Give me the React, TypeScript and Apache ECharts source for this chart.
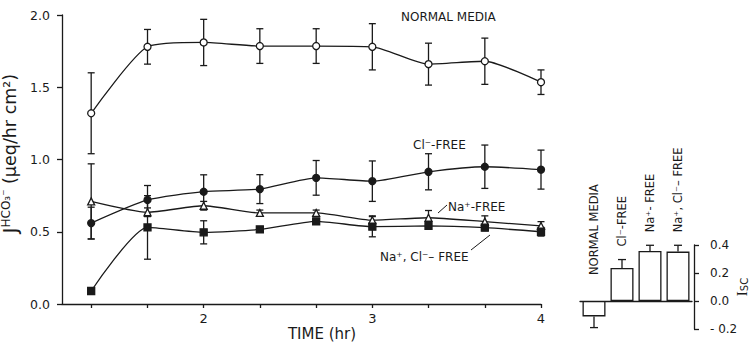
import React, { useEffect, useRef } from 'react';
import * as echarts from 'echarts';

// Sampling times (hr)
const times = [1.333, 1.667, 2.0, 2.333, 2.667, 3.0, 3.333, 3.667, 4.0];
const xLabelValues = [2, 3, 4];

// J HCO3 (µeq/hr cm2)
const normal = [1.32, 1.78, 1.81, 1.785, 1.785, 1.78, 1.66, 1.68, 1.535];
const normalErr = [0.28, 0.12, 0.16, 0.12, 0.12, 0.16, 0.145, 0.16, 0.085];
const clFree = [0.56, 0.72, 0.777, 0.795, 0.873, 0.85, 0.915, 0.95, 0.93];
const clFreeErr = [0.11, 0.1, 0.117, 0.1, 0.12, 0.14, 0.125, 0.15, 0.135];
const naFree = [0.71, 0.635, 0.68, 0.63, 0.63, 0.58, 0.597, 0.57, 0.54];
const naFreeErr = [0.26, 0.03, 0.03, 0.02, 0.02, 0.03, 0.05, 0.04, 0.03];
const naClFree = [0.09, 0.53, 0.496, 0.516, 0.572, 0.535, 0.54, 0.528, 0.5];
const naClFreeErr = [0.02, 0.22, 0.08, 0.02, 0.02, 0.07, 0.02, 0.02, 0.03];

// Isc bars
const iscCategories = ['NORMAL MEDIA', 'Cl⁻-FREE', 'Na⁺- FREE', 'Na⁺, Cl⁻– FREE'];
const isc = [-0.11, 0.236, 0.358, 0.353];
const iscErr = [0.08, 0.06, 0.04, 0.045];

export default function App() {
  const ref = useRef<HTMLDivElement>(null);
  useEffect(() => {
    document.body.style.margin = '0';
    const chart = echarts.init(ref.current!, null, { renderer: 'svg' });
    const ink = '#1a1a1a';
    const font = 'DejaVu Sans';
    const lw = 1.3;

    const pts = (ys: number[]) => times.map((t, i) => [t, ys[i]]);
    const errSeries = (ys: number[], es: number[]) => ({
      type: 'custom',
      xAxisIndex: 0,
      yAxisIndex: 0,
      silent: true,
      z: 1,
      encode: { x: 0, y: 1 },
      data: times.map((t, i) => [t, ys[i], es[i]]),
      renderItem: (params: any, api: any) => {
        const x = api.value(0), y = api.value(1), e = api.value(2);
        const top = api.coord([x, y + e]);
        const bot = api.coord([x, y - e]);
        const w = 3.5;
        const style = { stroke: ink, lineWidth: lw };
        return {
          type: 'group',
          children: [
            { type: 'line', shape: { x1: top[0], y1: top[1], x2: bot[0], y2: bot[1] }, style },
            { type: 'line', shape: { x1: top[0] - w, y1: top[1], x2: top[0] + w, y2: top[1] }, style },
            { type: 'line', shape: { x1: bot[0] - w, y1: bot[1], x2: bot[0] + w, y2: bot[1] }, style },
          ],
        };
      },
    });
    const lineSeries = (name: string, ys: number[], symbol: string, filled: boolean) => ({
      type: 'line',
      name,
      xAxisIndex: 0,
      yAxisIndex: 0,
      data: pts(ys),
      smooth: 0.2,
      symbol,
      symbolSize: 7,
      showSymbol: true,
      z: 3,
      itemStyle: { color: filled ? ink : '#fff', borderColor: ink, borderWidth: lw },
      lineStyle: { color: ink, width: lw },
    });

    const textStyle = { fontFamily: font, fontSize: 12, fill: ink };

    chart.setOption({
      animation: false,
      backgroundColor: '#fff',
      grid: [
        { left: 62, top: 15, width: 479, height: 289, containLabel: false, outerBoundsMode: 'none' },
        { left: 580, top: 245, width: 112, height: 84, containLabel: false, outerBoundsMode: 'none' },
      ],
      xAxis: [
        {
          type: 'value',
          gridIndex: 0,
          min: 1.16,
          max: 4,
          axisLine: { show: true, lineStyle: { color: ink, width: lw } },
          axisTick: { show: true, customValues: times, length: 4, lineStyle: { color: ink, width: lw } },
          axisLabel: {
            customValues: xLabelValues,
            formatter: (v: number) => String(v),
            color: ink,
            fontFamily: font,
            fontSize: 13,
            margin: 8,
          },
          splitLine: { show: false },
        },
        {
          type: 'category',
          gridIndex: 1,
          data: iscCategories,
          axisLine: { show: true, onZero: true, lineStyle: { color: ink, width: lw } },
          axisTick: { show: false },
          axisLabel: { show: false },
          splitLine: { show: false },
        },
      ],
      yAxis: [
        {
          type: 'value',
          gridIndex: 0,
          min: 0,
          max: 2,
          interval: 0.5,
          axisLine: { show: true, lineStyle: { color: ink, width: lw } },
          axisTick: { show: true, length: 5, lineStyle: { color: ink, width: lw } },
          axisLabel: {
            formatter: (v: number) => v.toFixed(1),
            color: ink,
            fontFamily: font,
            fontSize: 12.5,
            margin: 12,
          },
          splitLine: { show: false },
          name: '{j|J}{s|HCO₃⁻}{t| (μeq/hr cm²)}',
          nameLocation: 'middle',
          nameRotate: 90,
          nameGap: 38,
          nameTextStyle: {
            color: ink,
            fontFamily: font,
            padding: [0, 0, 0, 12],
            rich: {
              j: { fontSize: 19, fontFamily: font, color: ink, verticalAlign: 'bottom' },
              s: { fontSize: 12, fontFamily: font, color: ink, verticalAlign: 'top' },
              t: { fontSize: 17.5, fontFamily: font, color: ink, verticalAlign: 'bottom' },
            },
          },
        },
        {
          type: 'value',
          gridIndex: 1,
          position: 'right',
          offset: 2,
          min: -0.2,
          max: 0.4,
          interval: 0.2,
          axisLine: { show: true, lineStyle: { color: ink, width: lw } },
          axisTick: { show: true, length: 5, lineStyle: { color: ink, width: lw } },
          axisLabel: {
            formatter: (v: number) => (v < 0 ? '- ' + Math.abs(v).toFixed(1) : v.toFixed(1)),
            color: ink,
            fontFamily: font,
            fontSize: 12,
            margin: 16,
          },
          splitLine: { show: false },
        },
      ],
      series: [
        errSeries(normal, normalErr),
        errSeries(clFree, clFreeErr),
        errSeries(naFree, naFreeErr),
        errSeries(naClFree, naClFreeErr),
        lineSeries('NORMAL MEDIA', normal, 'circle', false),
        lineSeries('Cl⁻-FREE', clFree, 'circle', true),
        lineSeries('Na⁺-FREE', naFree, 'triangle', false),
        lineSeries('Na⁺, Cl⁻– FREE', naClFree, 'rect', true),
        {
          type: 'bar',
          xAxisIndex: 1,
          yAxisIndex: 1,
          data: isc,
          barWidth: 23,
          z: 2,
          itemStyle: { color: '#fff', borderColor: ink, borderWidth: lw },
        },
        {
          type: 'bar',
          xAxisIndex: 1,
          yAxisIndex: 1,
          barGap: '-100%',
          barWidth: 23,
          silent: true,
          z: 1,
          data: isc.map((v, i) => ({
            value: v > 0 ? v + iscErr[i] : 0,
            label: { distance: v > 0 ? 13 : 26 },
          })),
          itemStyle: { color: 'rgba(0,0,0,0)' },
          label: {
            show: true,
            position: 'top',
            rotate: 90,
            align: 'left',
            verticalAlign: 'middle',
            formatter: (p: any) => iscCategories[p.dataIndex],
            color: ink,
            fontFamily: font,
            fontSize: 11.5,
          },
        },
        {
          type: 'custom',
          xAxisIndex: 1,
          yAxisIndex: 1,
          silent: true,
          z: 3,
          encode: { x: 0, y: 1 },
          data: isc.map((v, i) => [i, v, iscErr[i]]),
          renderItem: (params: any, api: any) => {
            const x = api.value(0), y = api.value(1), e = api.value(2);
            const a = api.coord([x, y]);
            const b = api.coord([x, y + (y >= 0 ? e : -e)]);
            const w = 4;
            const style = { stroke: ink, lineWidth: lw };
            return {
              type: 'group',
              children: [
                { type: 'line', shape: { x1: a[0], y1: a[1], x2: b[0], y2: b[1] }, style },
                { type: 'line', shape: { x1: b[0] - w, y1: b[1], x2: b[0] + w, y2: b[1] }, style },
              ],
            };
          },
        },
      ],
      graphic: [
        { type: 'text', x: 401, y: 17, style: { ...textStyle, text: 'NORMAL MEDIA', verticalAlign: 'middle' } },
        { type: 'text', x: 413, y: 145, style: { ...textStyle, text: 'Cl⁻-FREE', verticalAlign: 'middle' } },
        { type: 'text', x: 448, y: 207, style: { ...textStyle, text: 'Na⁺-FREE', verticalAlign: 'middle' } },
        { type: 'line', shape: { x1: 438, y1: 213, x2: 447, y2: 205 }, style: { stroke: ink, lineWidth: 1 } },
        { type: 'text', x: 380, y: 257, style: { ...textStyle, text: 'Na⁺, Cl⁻– FREE', verticalAlign: 'middle' } },
        { type: 'line', shape: { x1: 471, y1: 250, x2: 490, y2: 235 }, style: { stroke: ink, lineWidth: 1 } },
        {
          type: 'text',
          x: 322,
          y: 334,
          style: { fontFamily: font, fontSize: 15, fill: ink, text: 'TIME (hr)', align: 'center', verticalAlign: 'middle' },
        },
        {
          type: 'text',
          x: 742,
          y: 287,
          rotation: Math.PI / 2,
          style: {
            text: '{i|I}{s|SC}',
            align: 'center',
            verticalAlign: 'middle',
            fill: ink,
            rich: {
              i: { fontSize: 15, fontFamily: 'Liberation Serif', fill: ink, verticalAlign: 'bottom' },
              s: { fontSize: 10, fontFamily: font, fill: ink, verticalAlign: 'bottom' },
            },
          },
        },
      ],
    });
    return () => chart.dispose();
  }, []);
  return <div ref={ref} style={{ width: 755, height: 347 }} />;
}
